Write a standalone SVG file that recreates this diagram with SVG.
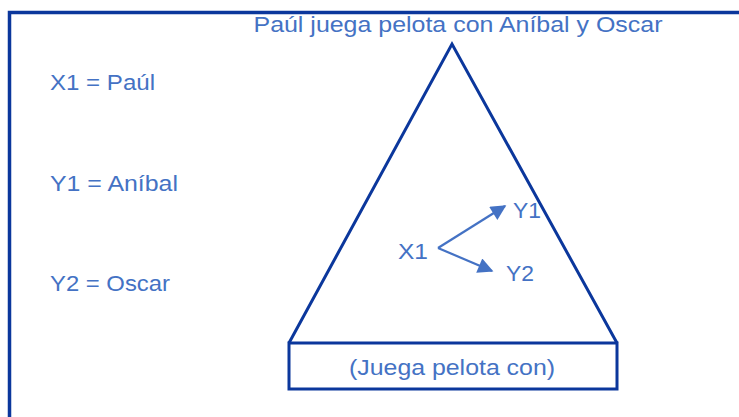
<svg xmlns="http://www.w3.org/2000/svg" width="739" height="417" viewBox="0 0 739 417">
<defs>
<style>
.frame{fill:none;stroke:#0b379c;stroke-width:3.5}
.shape{fill:none;stroke:#0b379c;stroke-width:3}
.t{font-family:"Liberation Sans","Open Sans",sans-serif;font-size:22px;fill:#4472c4}
.arr{stroke:#4472c4;stroke-width:2.2;fill:none}
</style>
<marker id="ah" viewBox="0 0 10 10" refX="9" refY="5" markerWidth="9" markerHeight="7" orient="auto" markerUnits="strokeWidth">
<path d="M0,0 L10,5 L0,10 Z" fill="#4472c4"/>
</marker>
</defs>
<rect width="739" height="417" fill="#ffffff"/>
<path class="frame" d="M9.5,420 L9.5,12.5 L745,12.5"/>
<text class="t" x="458" y="32" text-anchor="middle" textLength="409" lengthAdjust="spacingAndGlyphs">Paúl juega pelota con Aníbal y Oscar</text>
<g id="legend">
<text class="t" x="50" y="90" textLength="105" lengthAdjust="spacingAndGlyphs">X1 = Paúl</text>
<text class="t" x="50" y="191" textLength="128" lengthAdjust="spacingAndGlyphs">Y1 = Aníbal</text>
<text class="t" x="50" y="291" textLength="120" lengthAdjust="spacingAndGlyphs">Y2 = Oscar</text>
</g>
<g id="triangle">
<path class="shape" d="M289,343 L452,44 L617,343"/>
</g>
<g id="base">
<rect class="shape" x="289" y="343" width="328" height="46"/>
<text class="t" x="452" y="375" text-anchor="middle" textLength="206" lengthAdjust="spacingAndGlyphs">(Juega pelota con)</text>
</g>
<g id="x1"><text class="t" x="398" y="259" textLength="30" lengthAdjust="spacingAndGlyphs">X1</text></g>
<g id="y1"><text class="t" x="513" y="218" textLength="28" lengthAdjust="spacingAndGlyphs">Y1</text></g>
<g id="y2"><text class="t" x="506" y="281" textLength="28" lengthAdjust="spacingAndGlyphs">Y2</text></g>
<g id="connectors">
<line class="arr" x1="438" y1="248" x2="505" y2="206" marker-end="url(#ah)"/>
<line class="arr" x1="438" y1="248" x2="492" y2="271" marker-end="url(#ah)"/>
</g>
</svg>
